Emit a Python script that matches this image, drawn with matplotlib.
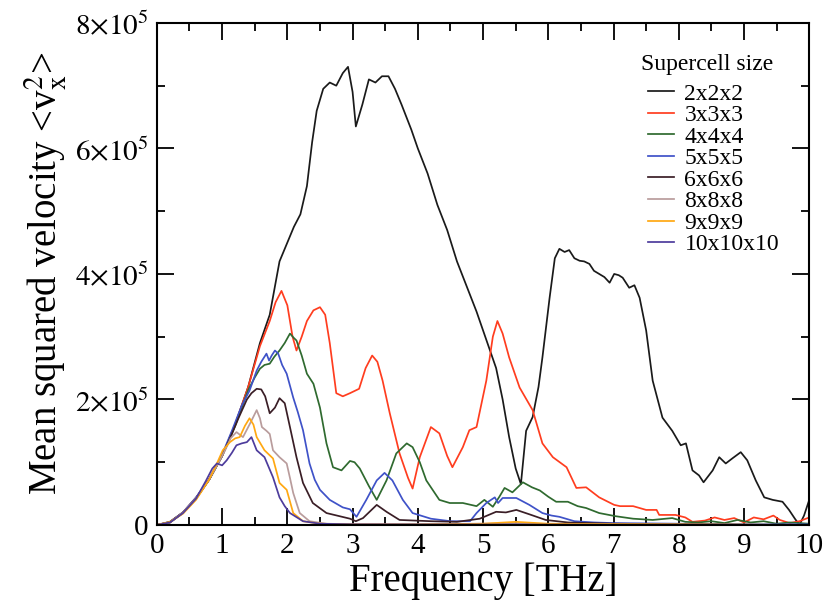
import matplotlib
matplotlib.use("Agg")
import matplotlib.pyplot as plt
from matplotlib.ticker import MultipleLocator
from matplotlib.lines import Line2D
from matplotlib.legend_handler import HandlerLine2D

plt.rcParams['font.family'] = ['Liberation Serif', 'DejaVu Serif']
plt.rcParams['mathtext.fontset'] = 'stix'

labels = ["2x2x2", "3x3x3", "4x4x4", "5x5x5", "6x6x6", "8x8x8", "9x9x9", "10x10x10"]
colors = ["#1a1a1a", "#ff3d1f", "#2f6a2f", "#3f52c8", "#3a1e26", "#b99c9c", "#ffa812", "#4d3c9c"]

# values in units of 1e5
f_222 = [0, 0.2, 0.4, 0.6, 0.8, 1.0, 1.2, 1.4, 1.58, 1.73, 1.88, 2.0, 2.1, 2.2, 2.3, 2.38, 2.45, 2.55, 2.65, 2.75,
         2.85, 2.93, 3.0, 3.05, 3.15, 3.25, 3.35, 3.45, 3.55, 3.65, 3.75, 3.9, 4.0, 4.15, 4.3, 4.45, 4.6,
         4.75, 4.9, 5.0, 5.1, 5.2, 5.3, 5.4, 5.5, 5.58, 5.66, 5.76, 5.85, 5.91, 6.02, 6.1, 6.17, 6.25, 6.32,
         6.4, 6.48, 6.55, 6.63, 6.7, 6.78, 6.86, 6.94, 7.01, 7.08, 7.14, 7.24, 7.32, 7.4, 7.5, 7.6, 7.75,
         7.9, 8.03, 8.11, 8.21, 8.31, 8.38, 8.52, 8.62, 8.72, 8.82, 8.95, 9.05, 9.18, 9.31, 9.44, 9.59,
         9.69, 9.78, 9.85, 9.92, 10.0]
v_222 = [0, 0.04, 0.19, 0.42, 0.72, 1.1, 1.6, 2.2, 2.9, 3.35, 4.2, 4.5, 4.75, 4.95, 5.4, 6.1, 6.6, 6.95, 7.05, 7.0,
         7.2, 7.3, 6.9, 6.35, 6.7, 7.1, 7.05, 7.15, 7.15, 6.95, 6.7, 6.3, 6.0, 5.6, 5.1, 4.7, 4.2,
         3.8, 3.4, 3.1, 2.8, 2.5, 2.0, 1.4, 0.9, 0.65, 1.5, 1.72, 2.2, 2.67, 3.62, 4.25, 4.4, 4.35, 4.38,
         4.25, 4.21, 4.2, 4.16, 4.05, 4.0, 3.95, 3.86, 4.0, 3.98, 3.94, 3.78, 3.82, 3.62, 3.1, 2.3, 1.71,
         1.5, 1.27, 1.3, 0.87, 0.79, 0.68, 0.87, 1.08, 0.98, 1.06, 1.16, 1.03, 0.71, 0.44, 0.40, 0.37,
         0.24, 0.10, 0.0, 0.15, 0.4]

f_333 = [0, 0.2, 0.4, 0.6, 0.8, 1.0, 1.2, 1.4, 1.58, 1.73, 1.82, 1.91, 2.0, 2.08, 2.14, 2.22, 2.3, 2.4, 2.5,
         2.58, 2.65, 2.75, 2.85, 2.96, 3.1, 3.2, 3.3, 3.38, 3.46, 3.57, 3.72, 3.85, 3.92, 4.03, 4.2, 4.33,
         4.45, 4.53, 4.69, 4.79, 4.9, 5.05, 5.15, 5.22, 5.3, 5.4, 5.56, 5.76, 5.91, 6.07, 6.28, 6.43, 6.58,
         6.78, 7.01, 7.1, 7.3, 7.5, 7.66, 7.7, 7.95, 8.1, 8.21, 8.4, 8.55, 8.7, 8.85, 9.0, 9.15, 9.3, 9.45,
         9.55, 9.7, 9.85, 10.0]
v_333 = [0, 0.04, 0.2, 0.43, 0.73, 1.1, 1.6, 2.2, 2.85, 3.25, 3.55, 3.73, 3.5, 3.0, 2.78, 3.0, 3.25, 3.42, 3.47,
         3.35, 2.9, 2.1, 2.05, 2.1, 2.17, 2.5, 2.7, 2.6, 2.3, 1.78, 1.14, 0.75, 0.58, 1.08, 1.56, 1.46,
         1.1, 0.92, 1.24, 1.51, 1.56, 2.3, 3.0, 3.25, 3.05, 2.67, 2.19, 1.83, 1.3, 1.08, 0.92, 0.59, 0.6,
         0.44, 0.32, 0.3, 0.3, 0.24, 0.24, 0.16, 0.16, 0.12, 0.05, 0.07, 0.12, 0.08, 0.11, 0.04, 0.12, 0.09, 0.15,
         0.08, 0.03, 0.06, 0.12]

f_444 = [0, 0.2, 0.4, 0.6, 0.8, 1.0, 1.2, 1.4, 1.5, 1.58, 1.65, 1.73, 1.8, 1.88, 1.96, 2.04, 2.1, 2.14, 2.22,
         2.3, 2.4, 2.5, 2.6, 2.7, 2.83, 2.96, 3.03, 3.11, 3.25, 3.37, 3.52, 3.67, 3.83, 3.92, 4.03, 4.13,
         4.33, 4.49, 4.69, 4.9, 5.02, 5.15, 5.25, 5.33, 5.45, 5.61, 5.75, 5.87, 6.0, 6.12, 6.3, 6.45, 6.58,
         6.78, 7.03, 7.3, 7.6, 7.9, 8.1, 8.3, 8.5, 8.7, 8.9, 9.1, 9.3, 9.5, 9.7, 10.0]
v_444 = [0, 0.04, 0.2, 0.42, 0.72, 1.1, 1.58, 2.15, 2.35, 2.49, 2.55, 2.57, 2.68, 2.78, 2.9, 3.05, 2.98, 2.94, 2.7,
         2.41, 2.25, 1.87, 1.3, 0.92, 0.87, 1.02, 1.0, 0.9, 0.62, 0.4, 0.71, 1.14, 1.3, 1.24, 1.0, 0.71,
         0.4, 0.35, 0.35, 0.3, 0.4, 0.29, 0.45, 0.59, 0.52, 0.68, 0.6, 0.55, 0.45, 0.37, 0.37, 0.3, 0.27,
         0.19, 0.14, 0.1, 0.08, 0.11, 0.05, 0.04, 0.06, 0.03, 0.08, 0.04, 0.06, 0.02, 0.04, 0.02]

f_555 = [0, 0.2, 0.4, 0.6, 0.8, 1.0, 1.15, 1.3, 1.42, 1.53, 1.6, 1.68, 1.72, 1.76, 1.81, 1.86, 1.92, 1.99, 2.09,
         2.16, 2.24, 2.34, 2.42, 2.5, 2.65, 2.85, 2.96, 3.06, 3.21, 3.37, 3.49, 3.61, 3.77, 3.92, 4.2, 4.5,
         4.8, 4.9, 5.05, 5.18, 5.23, 5.3, 5.51, 5.71, 5.91, 6.05, 6.17, 6.4, 6.7, 7.0, 8.0, 9.0, 10.0]
v_555 = [0, 0.05, 0.2, 0.44, 0.72, 1.12, 1.5, 1.9, 2.14, 2.46, 2.6, 2.73, 2.62, 2.7, 2.78, 2.73, 2.55, 2.41, 2.03,
         1.8, 1.51, 0.98, 0.72, 0.56, 0.4, 0.28, 0.25, 0.13, 0.4, 0.71, 0.83, 0.71, 0.4, 0.19, 0.1, 0.06,
         0.06, 0.19, 0.35, 0.44, 0.35, 0.43, 0.43, 0.32, 0.19, 0.15, 0.13, 0.06, 0.04, 0.03, 0.02, 0.01, 0.01]

f_666 = [0, 0.2, 0.4, 0.6, 0.8, 1.0, 1.15, 1.25, 1.38, 1.45, 1.53, 1.6, 1.66, 1.73, 1.81, 1.88, 1.96, 2.04, 2.14,
         2.24, 2.39, 2.6, 2.8, 2.96, 3.05, 3.16, 3.37, 3.52, 3.72, 4.2, 4.6, 4.95, 5.2, 5.35, 5.51, 5.71,
         5.96, 6.3, 7.0, 8.0, 10.0]
v_666 = [0, 0.05, 0.2, 0.43, 0.72, 1.1, 1.45, 1.7, 2.0, 2.1, 2.17, 2.16, 2.05, 1.78, 1.87, 2.02, 1.94, 1.56, 1.08,
         0.67, 0.35, 0.19, 0.14, 0.1, 0.06, 0.11, 0.32, 0.21, 0.08, 0.06, 0.05, 0.1, 0.21, 0.2, 0.24, 0.17,
         0.08, 0.04, 0.02, 0.01, 0.0]

f_888 = [0, 0.2, 0.4, 0.6, 0.8, 0.95, 1.05, 1.13, 1.22, 1.32, 1.43, 1.53, 1.58, 1.61, 1.68, 1.73, 1.78, 1.88,
         1.99, 2.04, 2.09, 2.19, 2.34, 2.6, 3.0, 4.0, 5.0, 5.5, 6.0, 10.0]
v_888 = [0, 0.04, 0.2, 0.43, 0.72, 1.0, 1.2, 1.38, 1.48, 1.4, 1.62, 1.83, 1.7, 1.56, 1.5, 1.45, 1.19, 1.08,
         0.98, 0.75, 0.51, 0.19, 0.06, 0.02, 0.01, 0.01, 0.02, 0.03, 0.01, 0.0]

f_999 = [0, 0.2, 0.4, 0.6, 0.8, 0.92, 1.01, 1.12, 1.2, 1.27, 1.35, 1.42, 1.48, 1.53, 1.65, 1.78, 1.88, 1.99,
         2.09, 2.24, 2.5, 3.0, 4.0, 5.0, 5.5, 6.0, 10.0]
v_999 = [0, 0.05, 0.18, 0.4, 0.72, 0.98, 1.19, 1.32, 1.38, 1.4, 1.58, 1.7, 1.6, 1.4, 1.19, 1.06, 0.67, 0.56,
         0.19, 0.06, 0.02, 0.01, 0.01, 0.02, 0.05, 0.02, 0.0]

f_101010 = [0, 0.2, 0.4, 0.6, 0.75, 0.85, 0.92, 1.0, 1.07, 1.15, 1.22, 1.3, 1.38, 1.45, 1.53, 1.65, 1.78, 1.88,
            1.96, 2.04, 2.24, 2.5, 3.0, 10.0]
v_101010 = [0, 0.04, 0.19, 0.42, 0.7, 0.9, 0.98, 0.95, 1.03, 1.15, 1.27, 1.3, 1.32, 1.4, 1.19, 1.08, 0.76, 0.44,
            0.3, 0.19, 0.06, 0.02, 0.01, 0.0]

series = [(f_222, v_222), (f_333, v_333), (f_444, v_444), (f_555, v_555),
          (f_666, v_666), (f_888, v_888), (f_999, v_999), (f_101010, v_101010)]

x_ticks = [0, 1, 2, 3, 4, 5, 6, 7, 8, 9, 10]
y_ticks = [0, 2, 4, 6, 8]
y_ticklabels = ["0", r"$2{\times}10^5$", r"$4{\times}10^5$", r"$6{\times}10^5$", r"$8{\times}10^5$"]

fig = plt.figure(figsize=(8.3, 6.03), dpi=100)
ax = fig.add_axes([0.189, 0.1294, 0.786, 0.8326])

for (f, v), lab, c in zip(series, labels, colors):
    ax.plot(f, v, color=c, lw=1.25, label=lab)

ax.set_xlim(0, 10)
ax.set_ylim(0, 8)
ax.set_xticks(x_ticks)
ax.set_xticklabels([str(t) for t in x_ticks])
ax.set_yticks(y_ticks)
ax.set_yticklabels(y_ticklabels)
ax.xaxis.set_minor_locator(MultipleLocator(0.5))
ax.yaxis.set_minor_locator(MultipleLocator(1))
ax.tick_params(which='both', direction='in', top=True, right=True, width=1.3, labelsize=21)
ax.tick_params(which='major', length=12, pad=6)
ax.tick_params(which='minor', length=6)
for s in ax.spines.values():
    s.set_linewidth(1.5)

ax.set_xlabel("Frequency [THz]", fontsize=28, labelpad=2)
ax.set_ylabel(r"Mean squared velocity <v$_{\mathrm{x}}^{\mathrm{2}}$>", fontsize=28, labelpad=4)

leg = ax.legend(loc='upper left', bbox_to_anchor=(616 / 830, 1 - 29 / 603), bbox_transform=fig.transFigure,
                frameon=False, fontsize=17, title="Supercell size", title_fontsize=17,
                handlelength=1.4, handletextpad=0.45, labelspacing=0.0, borderpad=1.05, borderaxespad=0,
                alignment='left', handler_map={Line2D: HandlerLine2D(xpad=0.3)})
# extra gap between the legend title and its entries
leg._legend_box.sep = 6.0

fig.savefig("out.png", dpi=100)
